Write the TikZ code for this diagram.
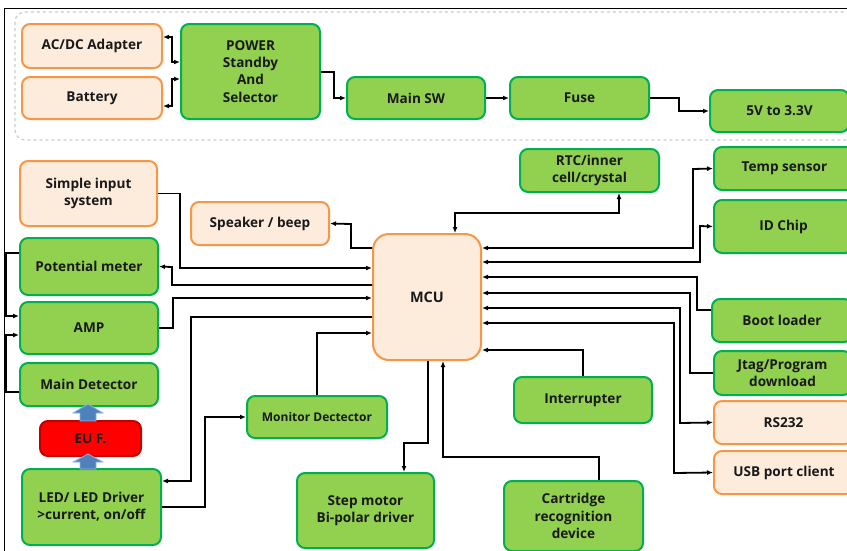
\documentclass[tikz,border=0pt]{standalone}
\usepackage{fontspec}
\setmainfont{Open Sans}
\usetikzlibrary{arrows.meta}
\definecolor{gfill}{RGB}{146,208,80}
\definecolor{gline}{RGB}{0,176,80}
\definecolor{ofill}{RGB}{253,236,220}
\definecolor{oline}{RGB}{247,150,70}
\definecolor{rfill}{RGB}{255,0,0}
\definecolor{rline}{RGB}{192,0,0}
\definecolor{bfill}{RGB}{79,129,189}
\definecolor{bline}{RGB}{141,180,226}
\newcommand\bx[7]{\node[#1, minimum width={(#5-#3)*1pt}, minimum height={(#6-#4)*1pt}] (#2) at ({(#3+#5)/2},{(#4+#6)/2}) {#7};}
\begin{document}
\begin{tikzpicture}[x=1pt,y=-1pt,
  box/.style={rounded corners=8pt, line width=2pt, inner sep=0pt, align=center,
    font=\fontsize{13.6}{17.2}\selectfont\bfseries, text=black!90},
  gbox/.style={box, draw=gline, fill=gfill},
  obox/.style={box, draw=oline, fill=ofill},
  rbox/.style={box, draw=rline, fill=rfill},
  mbox/.style={obox, rounded corners=16pt, font=\fontsize{14.5}{17}\selectfont\bfseries},
  conn/.style={line width=1.8pt, >={Latex[length=6pt,width=5pt]}},
  blk/.style={fill=bfill, draw=bline, line width=0.8pt},
]
\useasboundingbox (0,0) rectangle (847,550);
\clip (0,0) rectangle (847,550);
\fill[white] (0,0) rectangle (847,550);
% frame
\draw[line width=1pt] (4,560) -- (4,8) -- (860,8);
% dashed power area
\draw[dashed, draw=black!20, line width=1.2pt, rounded corners=10pt] (15,12) rectangle (880,140);

% power section
\bx{obox}{acdc}{22}{24}{162}{68}{AC/DC Adapter}
\bx{obox}{bat}{22}{77}{162}{119}{Battery}
\bx{gbox}{power}{181}{24}{320}{119}{POWER\\Standby\\And\\Selector}
\bx{gbox}{msw}{347}{77}{485}{119}{Main SW}
\bx{gbox}{fuse}{510}{77}{649}{119}{Fuse}
\bx{gbox}{v33}{710}{90}{849}{132}{5V to 3.3V}

% lower section
\bx{obox}{sis}{20}{161}{157}{226}{Simple input\\system}
\bx{obox}{spk}{191}{202}{329}{245}{Speaker / beep}
\bx{gbox}{pot}{20}{238}{158}{295}{Potential meter}
\bx{gbox}{amp}{20}{302}{158}{354}{AMP}
\bx{gbox}{md}{20}{363}{158}{406}{Main Detector}
\bx{rbox}{euf}{40}{421}{141}{456}{EU F.}
\bx{gbox}{led}{22}{469}{161}{545}{LED/ LED Driver\\>current, on/off}
\bx{mbox}{mcu}{373}{234}{481}{360}{MCU}
\bx{gbox}{mon}{247}{396}{387}{438}{\fontsize{12}{16}\selectfont Monitor Dectector}
\bx{gbox}{step}{297}{473}{434}{548}{Step motor\\Bi-polar driver}
\bx{gbox}{cart}{504}{481}{643}{551}{Cartridge\\recognition\\device}
\bx{gbox}{intr}{514}{377}{652}{423}{Interrupter}
\bx{gbox}{rtc}{520}{149}{659}{192}{RTC/inner\\cell/crystal}
\bx{gbox}{temp}{714}{147}{855}{190}{Temp sensor}
\bx{gbox}{idc}{714}{200}{853}{253}{ID Chip}
\bx{gbox}{boot}{712}{299}{852}{342}{Boot loader}
\bx{gbox}{jtag}{714}{351}{851}{395}{Jtag/Program\\download}
\bx{obox}{rs}{714}{401}{853}{444}{RS232}
\bx{obox}{usb}{714}{451}{854}{494}{USB port client}

% blue block arrows
\filldraw[blk] (80,421) -- (80,413) -- (73,413) -- (88,404) -- (103,413) -- (96,413) -- (96,421) -- cycle;
\filldraw[blk] (80,469) -- (80,462) -- (73,462) -- (88,454) -- (103,462) -- (96,462) -- (96,469) -- cycle;

% power connectors
\draw[conn,<->] (acdc.east |- 0,37) -| (172,62) -- (power.west |- 0,62);
\draw[conn,<->] (bat.east |- 0,106) -| (172,79) -- (power.west |- 0,79);
\draw[conn,->] (power.east |- 0,72) -| (334,98) -- (msw.west);
\draw[conn,->] (msw.east) -- (fuse.west);
\draw[conn,->] (fuse.east) -| (679,111) -- (v33.west);

% left side
\draw[conn,->] (sis.east) -| (180,268) -- (mcu.west |- 0,268);
\draw[conn,->] (mcu.west |- 0,285) -| (172,267) -- (pot.east);
\draw[conn,->] (amp.east) -| (173,298) -- (mcu.west |- 0,298);
\draw[conn,->] (mcu.west |- 0,317) -| (191,481) -- (led.east |- 0,481);
\draw[conn,->] (mon.north) |- (mcu.west |- 0,333);
\draw[conn,->] (led.east |- 0,507) -| (205,417) -- (mon.west);
\draw[conn,->] (mcu.west |- 0,248) -| (351,224) -- (spk.east);
\draw[conn,->] (pot.west |- 0,253) -| (6,316) -- (amp.west |- 0,316);
\draw[conn,->] (md.west |- 0,392) -| (6,335) -- (amp.west |- 0,335);

% bottom
\draw[conn,->] (mcu.south -| 428,0) |- (404,443) -- (step.north -| 404,0);
\draw[conn,->] (cart.north -| 599,0) |- (443,457) -- (mcu.south -| 443,0);
\draw[conn,->] (intr.north) |- (mcu.east |- 0,350);
\draw[conn,<->] (mcu.north -| 455,0) |- (619,213) -- (rtc.south -| 619,0);

% right side
\draw[conn,<->] (mcu.east |- 0,248) -| (693,169) -- (temp.west);
\draw[conn,<->] (mcu.east |- 0,262) -| (700,226) -- (idc.west);
\draw[conn,->] (boot.west |- 0,310) -| (697,277) -- (mcu.east |- 0,277);
\draw[conn,->] (jtag.west) -| (690,293) -- (mcu.east |- 0,293);
\draw[conn,<->] (mcu.east |- 0,308) -| (680,423) -- (rs.west);
\draw[conn,<->] (mcu.east |- 0,323) -| (674,473) -- (usb.west);
\end{tikzpicture}
\end{document}
